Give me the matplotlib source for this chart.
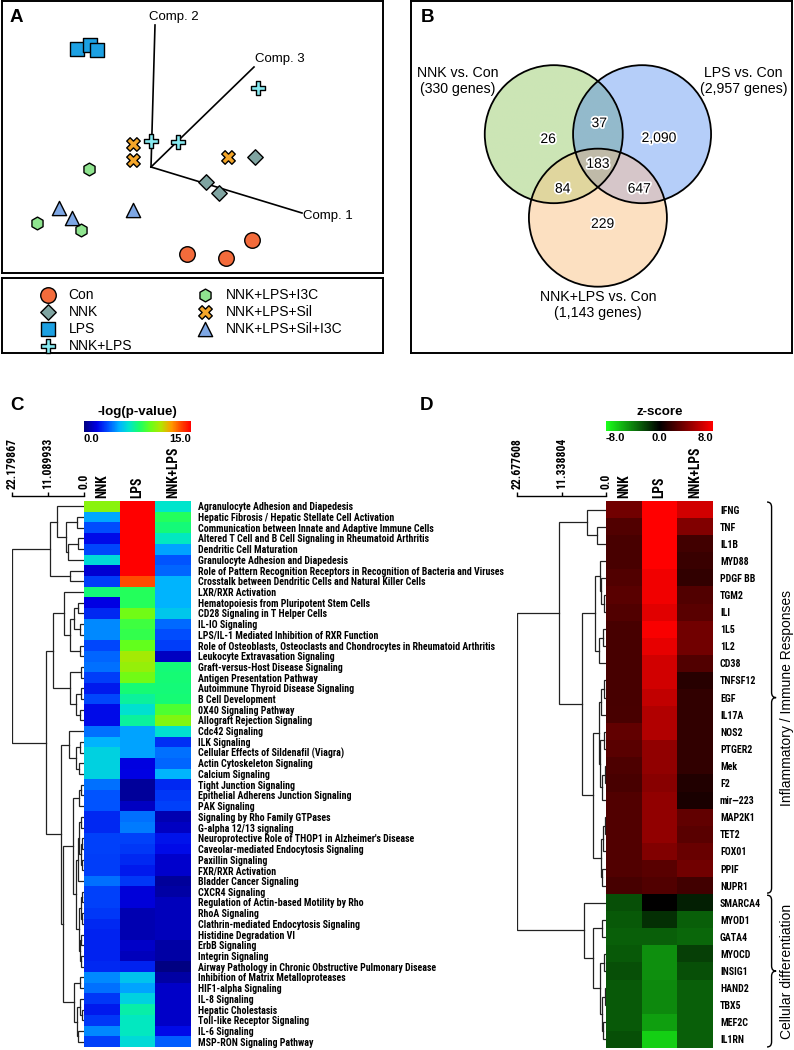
import numpy as np
import matplotlib
matplotlib.use('Agg')
import matplotlib.pyplot as plt
import matplotlib.patheffects as pe
from matplotlib import font_manager as fm
from matplotlib.colors import LinearSegmentedColormap, Normalize
from matplotlib.colorbar import ColorbarBase
from matplotlib.path import Path
from matplotlib.patches import PathPatch, Circle
from matplotlib.transforms import blended_transform_factory

plt.rcParams['font.family'] = ['Liberation Sans', 'DejaVu Sans']

# pick a narrow sans face for the heatmap texts (Arial Narrow look)
_fonts = fm.fontManager.ttflist
_names = {f.name for f in _fonts}
NARROW = 'Liberation Sans'
for cand in ['Liberation Sans Narrow', 'Arial Narrow', 'Roboto Condensed', 'Archivo Narrow',
             'PT Sans Narrow', 'IBM Plex Sans Condensed', 'Open Sans Condensed',
             'Sofia Sans Semi Condensed', 'Sofia Sans Condensed']:
    if cand in _names:
        NARROW = cand
        break


def _w(f):
    try:
        return int(f.weight)
    except (TypeError, ValueError):
        return 700 if 'bold' in str(f.weight) else 400


NARROW_W = 'bold' if any(f.name == NARROW and _w(f) >= 600 for f in _fonts) else 'normal'
NFAM = [NARROW, 'Liberation Sans', 'DejaVu Sans']

# ---------------- data ----------------
# Panel A: PCA scores
groups = ['Con', 'NNK', 'LPS', 'NNK+LPS', 'NNK+LPS+I3C', 'NNK+LPS+Sil', 'NNK+LPS+Sil+I3C']
pc_x = [[3.6, 7.5, 10.1], [10.4, 5.5, 6.8], [-7.4, -6.1, -5.4], [10.7, 0.0, 2.7],
        [-6.2, -11.4, -7.0], [-1.8, -1.8, 7.7], [-9.2, -7.9, -1.8]]
pc_y = [[-8.7, -9.1, -7.3], [1.0, -1.5, -2.6], [11.8, 12.2, 11.7], [7.9, 2.6, 2.5],
        [-0.2, -5.6, -6.3], [2.3, 0.7, 1.0], [-4.1, -5.1, -4.3]]
comp_names = ['Comp. 1', 'Comp. 2', 'Comp. 3']
comp_x = [15.1, 0.4, 10.3]
comp_y = [-4.6, 14.2, 10.0]

# Panel B: Venn counts
set_names = ['NNK vs. Con\n(330 genes)', 'LPS vs. Con\n(2,957 genes)',
             'NNK+LPS vs. Con\n(1,143 genes)']
venn_regions = ['NNK', 'NNK&LPS', 'LPS', 'all', 'NNK&NL', 'LPS&NL', 'NL']
venn_counts = [26, 37, 2090, 183, 84, 647, 229]

# Panel C: pathways, -log(p)
pathways = [
    'Agranulocyte Adhesion and Diapedesis',
    'Hepatic Fibrosis / Hepatic Stellate Cell Activation',
    'Communication between Innate and Adaptive Immune Cells',
    'Altered T Cell and B Cell Signaling in Rheumatoid Arthritis',
    'Dendritic Cell Maturation',
    'Granulocyte Adhesion and Diapedesis',
    'Role of Pattern Recognition Receptors in Recognition of Bacteria and Viruses',
    'Crosstalk between Dendritic Cells and Natural Killer Cells',
    'LXR/RXR Activation',
    'Hematopoiesis from Pluripotent Stem Cells',
    'CD28 Signaling in T Helper Cells',
    'IL-IO Signaling',
    'LPS/IL-1 Mediated Inhibition of RXR Function',
    'Role of Osteoblasts, Osteoclasts and Chondrocytes in Rheumatoid Arthritis',
    'Leukocyte Extravasation Signaling',
    'Graft-versus-Host Disease Signaling',
    'Antigen Presentation Pathway',
    'Autoimmune Thyroid Disease Signaling',
    'B Cell Development',
    '0X40 Signaling Pathway',
    'Allograft Rejection Signaling',
    'Cdc42 Signaling',
    'ILK Signaling',
    'Cellular Effects of Sildenafil (Viagra)',
    'Actin Cytoskeleton Signaling',
    'Calcium Signaling',
    'Tight Junction Signaling',
    'Epithelial Adherens Junction Signaling',
    'PAK Signaling',
    'Signaling by Rho Family GTPases',
    'G-alpha 12/13 signaling',
    "Neuroprotective Role of THOP1 in Alzheimer's Disease",
    'Caveolar-mediated Endocytosis Signaling',
    'Paxillin Signaling',
    'FXR/RXR Activation',
    'Bladder Cancer Signaling',
    'CXCR4 Signaling',
    'Regulation of Actin-based Motility by Rho',
    'RhoA Signaling',
    'Clathrin-mediated Endocytosis Signaling',
    'Histidine Degradation VI',
    'ErbB Signaling',
    'Integrin Signaling',
    'Airway Pathology in Chronic Obstructive Pulmonary Disease',
    'Inhibition of Matrix Metalloproteases',
    'HIF1-alpha Signaling',
    'IL-8 Signaling',
    'Hepatic Cholestasis',
    'Toll-like Receptor Signaling',
    'IL-6 Signaling',
    'MSP-RON Signaling Pathway',
]
conditions = ['NNK', 'LPS', 'NNK+LPS']
nnk_p = [10.0, 4.8, 3.3, 2.0, 3.2, 6.0, 1.5, 3.0, 7.5, 1.8, 2.6, 4.3, 4.3, 3.2, 3.7, 3.9, 3.0,
         2.3, 3.2, 2.0, 2.0, 3.9, 5.0, 5.8, 5.8, 5.8, 3.9, 3.4, 3.4, 2.6, 2.6, 3.1, 3.1, 3.0,
         3.0, 3.9, 3.1, 3.1, 2.9, 2.6, 2.5, 2.5, 2.5, 2.6, 4.3, 3.9, 2.9, 2.3, 2.9, 4.3, 3.1]
lps_p = [15.0, 15.0, 15.0, 15.0, 15.0, 15.0, 15.0, 13.5, 8.0, 8.0, 9.5, 8.5, 8.3, 9.2, 10.5,
         10.2, 9.5, 7.6, 7.0, 6.2, 7.0, 4.7, 4.7, 4.7, 1.7, 1.8, 0.5, 0.5, 1.2, 3.9, 4.1, 3.1,
         2.9, 2.6, 2.3, 2.9, 1.6, 1.6, 0.9, 0.9, 0.9, 1.3, 1.1, 2.5, 5.4, 4.7, 5.8, 6.8, 6.5,
         6.5, 6.0]
nl_p = [6.3, 8.0, 7.5, 6.5, 4.7, 3.4, 3.7, 5.0, 5.0, 5.0, 5.5, 3.8, 3.3, 3.0, 1.2, 7.5, 7.6,
        7.5, 7.6, 8.8, 9.8, 6.2, 2.7, 3.9, 3.7, 5.0, 2.6, 2.9, 3.1, 0.9, 1.2, 2.2, 2.0, 1.4,
        1.4, 0.5, 0.7, 1.1, 1.1, 1.1, 1.1, 0.7, 0.7, 0.1, 0.7, 1.3, 1.3, 1.3, 1.3, 2.0, 3.6]
c_ticks = [22.179867, 11.089933, 0.0]
# pathway tree: (left, right, height), leaves are row indices
tree_c = (
    ((0, ((1, 2, 2.1), ((3, 4, 1.8), 5, 5.0), 5.6), 8.4), (6, 7, 4.3), 10.5),
    (((8, (((9, 10, 1.8), (11, 12, 1.2), 3.0), (13, 14, 1.2), 4.2), 6.1),
      ((15, 16, 1.0), ((17, 18, 1.0), (19, 20, 1.2), 2.5), 4.3), 9.5),
     ((21, ((22, 23, 1.2), (24, 25, 1.5), 2.5), 4.5),
      ((((26, 27, 0.8), 28, 1.5),
        ((((29, 30, 0.8), ((31, 32, 0.6), (33, 34, 0.6), 1.0), 1.5), 35, 2.0),
         (((36, 37, 0.6), (38, 39, 0.5), 1.0), ((40, 41, 0.8), (42, 43, 1.0), 1.3), 1.6), 2.6), 3.5),
       ((44, 45, 1.2), ((46, (47, 48, 0.6), 1.2), (49, 50, 1.8), 2.2), 3.1), 6.4), 7.2), 11.8),
    22.179867)

# Panel D: genes, z-scores
genes = ['IFNG', 'TNF', 'IL1B', 'MYD88', 'PDGF BB', 'TGM2', 'ILI', '1L5', '1L2', 'CD38',
         'TNFSF12', 'EGF', 'IL17A', 'NOS2', 'PTGER2', 'Mek', 'F2', 'mir\u2014223', 'MAP2K1',
         'TET2', 'FOX01', 'PPIF', 'NUPR1', 'SMARCA4', 'MYOD1', 'GATA4', 'MYOCD', 'INSIG1',
         'HAND2', 'TBX5', 'MEF2C', 'IL1RN']
nnk_z = [3.5, 2.5, 2.3, 2.3, 2.5, 2.8, 2.5, 2.2, 2.2, 2.2, 2.2, 2.2, 2.3, 3.0, 2.8, 2.4, 2.3,
         2.5, 2.5, 2.5, 2.5, 2.5, 2.2, -2.5, -2.8, -3.0, -2.8, -2.5, -2.8, -2.8, -2.8, -2.5]
lps_z = [8.0, 8.0, 8.0, 8.0, 7.5, 7.5, 7.0, 7.8, 7.2, 6.5, 6.5, 6.0, 5.5, 5.5, 4.5, 4.5, 4.3,
         4.5, 4.5, 4.5, 4.0, 2.8, 2.5, 0.0, -1.5, -3.0, -4.5, -4.5, -4.3, -4.3, -5.0, -6.5]
nl_z = [6.5, 4.0, 2.0, 1.8, 1.5, 2.5, 2.8, 3.5, 3.5, 2.5, 1.2, 1.5, 1.5, 1.5, 1.5, 1.5, 1.0,
        0.8, 3.0, 2.8, 3.3, 3.5, 2.0, -1.0, -3.0, -3.2, -2.0, -2.5, -3.0, -3.0, -3.0, -3.0]
d_ticks = [22.677608, 11.338804, 0.0]
gene_groups = ['Inflammatory / Immune Responses', 'Cellular differentiation']
group_sizes = [23, 9]
tree_d = (
    ((0, (1, 2, 2.4), 4.9),
     (((3, (4, (5, 6, 0.5), 1.2), 1.5), ((7, 8, 0.8), 9, 1.8), 2.8),
      ((((10, 11, 0.5), 12, 1.2), ((13, 14, 0.6), ((15, 16, 0.3), 17, 1.0), 1.5), 1.9),
       ((((18, 19, 0.3), 20, 0.8), (21, 22, 1.0), 1.35)), 3.2), 6.0), 12.0),
    (23, ((24, 25, 0.9), ((26, 27, 0.5), ((28, 29, 0.3), (30, 31, 0.8), 1.0), 1.5), 3.2), 5.5),
    22.677608)

# ---------------- figure ----------------
W, H = 794, 1050
fig = plt.figure(figsize=(W / 100, H / 100), dpi=100)
renderer = fig.canvas.get_renderer()


def box(x0, y0, x1, y1):
    return fig.add_axes([x0 / W, 1 - y1 / H, (x1 - x0) / W, (y1 - y0) / H])


def frame(ax, lw=1.4):
    ax.set_xticks([])
    ax.set_yticks([])
    for s in ax.spines.values():
        s.set_linewidth(lw)


def fit_size(texts, target, use_height=False):
    # font size that makes the largest label span `target` pixels
    ext = [t.get_window_extent(renderer) for t in texts]
    big = max(e.height if use_height else e.width for e in ext)
    return texts[0].get_fontsize() * target / big


# ---- Panel A ----
axA = box(2, 1, 383, 273)
frame(axA)
axA.set_xlim(-14.9, 23.2)
axA.set_ylim(-10.6, 16.6)
for cx, cy in zip(comp_x, comp_y):
    axA.plot([0, cx], [0, cy], color='black', lw=1.2, zorder=1)
axA.text(comp_x[0] + 0.1, comp_y[0] - 0.3, comp_names[0], fontsize=9.5, ha='left', va='center')
axA.text(comp_x[1] - 0.6, comp_y[1] + 0.2, comp_names[1], fontsize=9.5, ha='left', va='bottom')
axA.text(comp_x[2] + 0.1, comp_y[2] + 0.2, comp_names[2], fontsize=9.5, ha='left', va='bottom')

styles = [('o', '#F36B3B', 125), ('D', '#7FA4A1', 62), ('s', '#1CA0E2', 115),
          ('P', '#86E9F0', 100), ('h', '#8FE48F', 85), ('X', '#F4A62A', 95),
          ('^', '#7EA7E4', 105)]
handles = []
for name, xs, ys, (m, c, s) in zip(groups, pc_x, pc_y, styles):
    h = axA.scatter(xs, ys, marker=m, s=s, c=c, edgecolors='black', linewidths=1.0,
                    zorder=3, label=name)
    handles.append(h)

axL = box(2, 278, 383, 353)
frame(axL)
leg_kw = dict(frameon=False, fontsize=10, handletextpad=0.85, labelspacing=0.22,
              borderaxespad=0, borderpad=0, handlelength=1.2, scatterpoints=1,
              loc='upper left')
leg1 = axL.legend(handles[:4], groups[:4], bbox_to_anchor=(0.0997, 0.87), **leg_kw)
axL.add_artist(leg1)
axL.legend(handles[4:], groups[4:], bbox_to_anchor=(0.512, 0.87), **leg_kw)

# ---- Panel B ----
axB = box(411, 1, 792, 353)
frame(axB)
xl = (-2.709, 2.813)
yl = (-2.771, 2.330)
centers = [(-0.64, 0.40), (0.64, 0.40), (0.0, -0.81)]
gx, gy = np.meshgrid(np.linspace(xl[0], xl[1], 900), np.linspace(yl[0], yl[1], 840))
code = np.zeros(gx.shape, dtype=int)
for k, (cx, cy) in enumerate(centers):
    code += ((gx - cx) ** 2 + (gy - cy) ** 2 <= 1.0).astype(int) << k
palette = np.array([
    [1, 1, 1, 0],
    [0.80, 0.90, 0.71, 1],  # NNK only
    [0.71, 0.81, 0.98, 1],  # LPS only
    [0.58, 0.73, 0.80, 1],  # NNK & LPS
    [0.99, 0.88, 0.76, 1],  # NNK+LPS only
    [0.88, 0.84, 0.62, 1],  # NNK & NNK+LPS
    [0.84, 0.78, 0.79, 1],  # LPS & NNK+LPS
    [0.75, 0.73, 0.66, 1],  # all three
])
axB.imshow(palette[code], extent=(xl[0], xl[1], yl[0], yl[1]), origin='lower',
           aspect='auto', interpolation='bilinear', zorder=1)
for cx, cy in centers:
    axB.add_patch(Circle((cx, cy), 1.0, fill=False, ec='black', lw=1.3, zorder=2))
axB.set_xlim(*xl)
axB.set_ylim(*yl)
count_pos = [(-0.72, 0.33), (0.02, 0.56), (0.885, 0.345), (0.0, -0.03),
             (-0.51, -0.39), (0.6, -0.39), (0.07, -0.9)]
halo = [pe.withStroke(linewidth=2.5, foreground='white')]
for (px, py), n in zip(count_pos, venn_counts):
    axB.text(px, py, f'{n:,}', fontsize=10, ha='center', va='center', zorder=3,
             path_effects=halo)
for (px, py), name in zip([(-2.03, 1.17), (2.11, 1.17), (0.0, -2.07)], set_names):
    axB.text(px, py, name, fontsize=10.2, ha='center', va='center', linespacing=1.2)

# ---- heatmap helpers ----
cmap_p = LinearSegmentedColormap.from_list('pval', [
    (0.00, (0.0, 0.0, 0.50)), (0.12, (0.0, 0.0, 0.90)), (0.22, (0.0, 0.30, 1.0)),
    (0.33, (0.0, 0.70, 1.0)), (0.42, (0.0, 0.90, 0.80)), (0.52, (0.10, 1.0, 0.40)),
    (0.62, (0.40, 1.0, 0.10)), (0.72, (0.70, 0.90, 0.0)), (0.82, (1.0, 0.60, 0.0)),
    (0.90, (1.0, 0.30, 0.0)), (1.00, (1.0, 0.0, 0.0))])
cmap_z = LinearSegmentedColormap.from_list('z', [(0.1, 1.0, 0.1), (0, 0, 0), (1.0, 0.0, 0.0)])


def draw_tree(ax, node):
    if isinstance(node, int):
        return float(node), 0.0
    left, right, h = node
    yl_, hl = draw_tree(ax, left)
    yr, hr = draw_tree(ax, right)
    ax.plot([hl, h, h, hr], [yl_, yl_, yr, yr], color='#222222', lw=0.9,
            solid_joinstyle='miter')
    return (yl_ + yr) / 2, h


def dendro_axes(x0, x1, y0, y1, tree, n, ticks):
    ax = box(x0, y0, x1, y1)
    draw_tree(ax, tree)
    ax.set_xlim(ticks[0], 0)
    ax.set_ylim(n - 0.5, -0.5)
    for k in ['left', 'right', 'bottom']:
        ax.spines[k].set_visible(False)
    ax.spines['top'].set_position(('outward', 3.6))
    ax.spines['top'].set_linewidth(1.0)
    ax.xaxis.tick_top()
    ax.set_xticks(ticks)
    ax.set_xticklabels([f'{t:.6f}' if t else '0.0' for t in ticks], rotation=90,
                       fontsize=7.5, fontweight=NARROW_W, family=NFAM)
    ax.tick_params(axis='x', length=3, width=1.0, pad=2)
    ax.tick_params(axis='x', labelsize=fit_size(ax.get_xticklabels(), 51, True))
    ax.set_yticks([])
    ax.patch.set_alpha(0)
    return ax


def heat_axes(x0, x1, y0, y1, mat, cmap, vmin, vmax, rowlabels, row_w):
    ax = box(x0, y0, x1, y1)
    ax.imshow(mat, cmap=cmap, vmin=vmin, vmax=vmax, aspect='auto', interpolation='nearest')
    ax.set_xticks(range(len(conditions)))
    ax.set_xticklabels(conditions, rotation=90, fontsize=8.5, fontweight='bold', family=NFAM)
    ax.xaxis.tick_top()
    ax.tick_params(axis='x', length=0, pad=2.2)
    ax.tick_params(axis='x', labelsize=fit_size(ax.get_xticklabels(), 51, True))
    ax.yaxis.tick_right()
    ax.set_yticks(range(len(rowlabels)))
    ax.set_yticklabels(rowlabels, fontsize=7, fontweight=NARROW_W, family=NFAM)
    ax.tick_params(axis='y', length=0, pad=5)
    ax.tick_params(axis='y', labelsize=fit_size(ax.get_yticklabels(), row_w))
    for s in ax.spines.values():
        s.set_visible(False)
    return ax


def colorbar_axes(x0, x1, y0, y1, cmap, vmin, vmax, ticks, labels, title):
    cax = box(x0, y0, x1, y1)
    cb = ColorbarBase(cax, cmap=cmap, norm=Normalize(vmin, vmax), orientation='horizontal')
    cb.outline.set_visible(False)
    cb.set_ticks(ticks)
    cb.set_ticklabels(labels)
    cax.tick_params(length=0, pad=1.5, labelsize=8)
    tl = cax.get_xticklabels()
    tl[0].set_ha('left')
    tl[-1].set_ha('right')
    for t in tl:
        t.set_fontweight('bold')
    cax.set_title(title, fontsize=9.6, fontweight='bold', pad=4)
    return cax


# ---- Panel C ----
mat_c = np.column_stack([nnk_p, lps_p, nl_p])
heat_axes(84, 191, 501, 1047, mat_c, cmap_p, 0, 15, pathways, 305)
dendro_axes(12, 84, 501, 1047, tree_c, len(pathways), c_ticks)
colorbar_axes(84, 191, 421, 432, cmap_p, 0, 15, [0, 15], ['0.0', '15.0'], '-log(p-value)')

# ---- Panel D ----
mat_d = np.column_stack([nnk_z, lps_z, nl_z])
axD = heat_axes(606, 713, 501, 1048, mat_d, cmap_z, -8, 8, genes, 41)
dendro_axes(517, 606, 501, 1048, tree_d, len(genes), d_ticks)
colorbar_axes(606, 713, 421, 431, cmap_z, -8, 8, [-8, 0, 8], ['-8.0', '0.0', '8.0'], 'z-score')


def brace(ax, y0, y1, x0, x1, r):
    trans = blended_transform_factory(ax.transAxes, ax.transData)
    xm = (x0 + x1) / 2
    ym = (y0 + y1) / 2
    verts = [(x0, y0), (xm, y0), (xm, y0 + r), (xm, ym - r), (xm, ym), (x1, ym),
             (xm, ym), (xm, ym + r), (xm, y1 - r), (xm, y1), (x0, y1)]
    codes = [Path.MOVETO, Path.CURVE3, Path.CURVE3, Path.LINETO, Path.CURVE3, Path.CURVE3,
             Path.CURVE3, Path.CURVE3, Path.LINETO, Path.CURVE3, Path.CURVE3]
    ax.add_patch(PathPatch(Path(verts, codes), transform=trans, fill=False, lw=1.0,
                           ec='black', clip_on=False))


start = 0
for name, size in zip(gene_groups, group_sizes):
    y0 = start - 0.5 + 0.06
    y1 = start + size - 0.5 - 0.06
    brace(axD, y0, y1, 1.505, 1.59, 0.3)
    axD.text(1.69, (y0 + y1) / 2, name, rotation=90, fontsize=10, ha='center', va='center',
             transform=blended_transform_factory(axD.transAxes, axD.transData))
    start += size

# panel letters
for lab, (px, py) in zip('ABCD', [(10, 18), (421, 18), (10, 406), (420, 406)]):
    fig.text(px / W, 1 - py / H, lab, fontsize=13.5, fontweight='bold', ha='left', va='center')

fig.savefig('out.png', dpi=100)
